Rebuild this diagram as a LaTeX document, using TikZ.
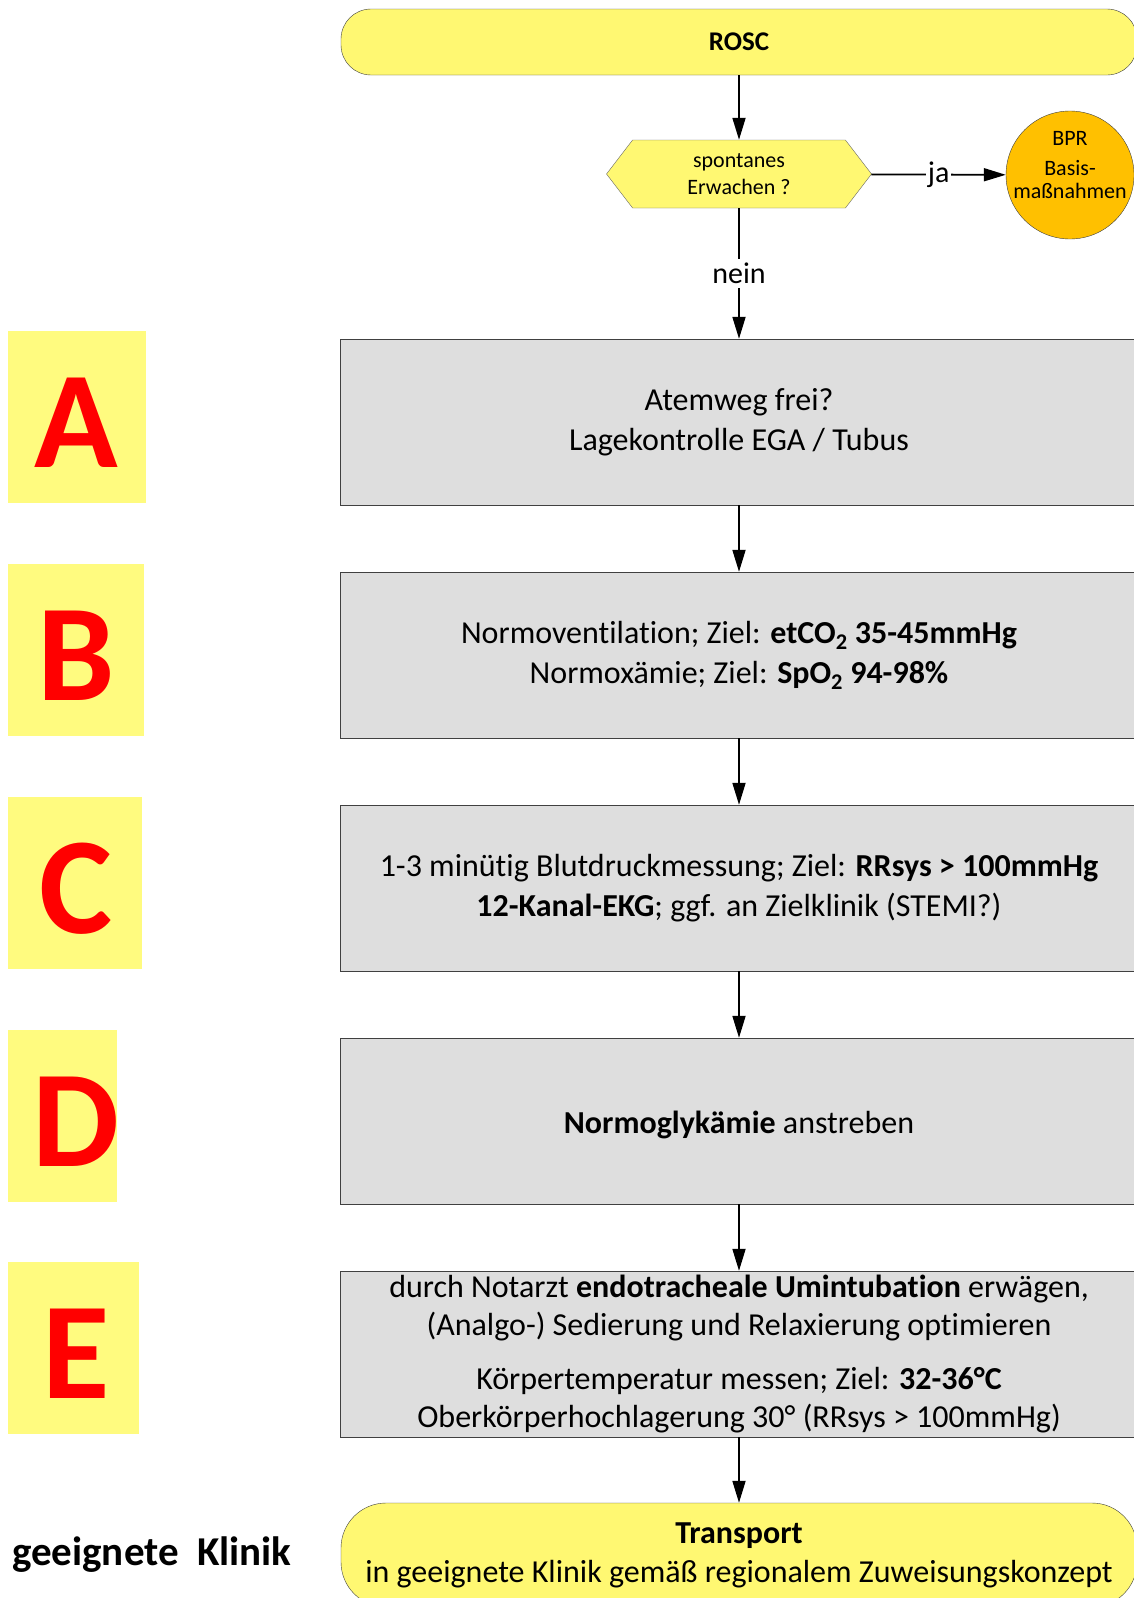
\documentclass[tikz,border=0pt]{standalone}
\usepackage{fontspec}
\setmainfont{Carlito}[Ligatures=NoCommon]
\usepackage{tikz}
\usetikzlibrary{shapes,arrows,arrows.meta,positioning}
\definecolor{gelb}{HTML}{FFF872}
\definecolor{hellgelb}{HTML}{FFFB7F}
\definecolor{grau}{HTML}{DEDEDE}
\definecolor{bprorange}{HTML}{FFC000}
\definecolor{rot}{HTML}{FF0000}
\tikzstyle{schritt} = [rectangle, draw=black!75, fill=grau, minimum width=798pt, minimum height=166pt, align=center, font=\fontsize{32}{40}\selectfont, execute at begin node=\rule{0pt}{30pt}]
\tikzstyle{rund} = [rectangle, draw=black!75, fill=gelb, minimum width=796pt, align=center]
\tikzstyle{frage} = [signal, signal to=east and west, signal pointer angle=105, draw=black!60, fill=gelb, minimum width=265pt, minimum height=68pt, inner sep=0pt, align=center, font=\fontsize{22}{27}\selectfont]
\tikzstyle{kreis} = [circle, draw=black!75, fill=bprorange, minimum size=128pt, inner sep=-25pt, align=center, font=\fontsize{22}{22.5}\selectfont]
\tikzstyle{buchbox} = [rectangle, fill=hellgelb, minimum height=172pt, anchor=west, inner sep=0pt]
\tikzstyle{buchstabe} = [text=rot, inner sep=0pt, font=\fontsize{138}{138}\selectfont\bfseries]
\tikzstyle{marke} = [fill=white, font=\fontsize{30}{34}\selectfont]
\tikzstyle{line} = [draw, line width=1.8pt, -{Triangle[length=22pt,width=13pt]}]

\begin{document}
\begin{tikzpicture}[x=1pt, y=-1pt, node distance=233pt]
\useasboundingbox (0,0) rectangle (1133,1598);

\node [rund, minimum height=66pt, rounded corners=30pt, font=\fontsize{27}{30}\selectfont\bfseries] (rosc) at (739,42) {ROSC};
\node [frage] (erwachen) at (739,174) {spontanes\\Erwachen ?};
\node [kreis] (bpr) at (1070,175) {BPR\\[8pt]Basis-\\maßnahmen\\[-2pt]\mbox{}};

\node [schritt] (atemweg) at (739,422) {Atemweg frei?\\Lagekontrolle EGA / Tubus};
\node [schritt, below of=atemweg] (beatmung) {Normoventilation; Ziel: \textbf{etCO\textsubscript{2} 35-45mmHg}\\Normoxämie; Ziel: \textbf{SpO\textsubscript{2} 94-98\%}};
\node [schritt, below of=beatmung] (kreislauf) {1-3 minütig Blutdruckmessung; Ziel: \textbf{RRsys > 100mmHg}\\\textbf{12-Kanal-EKG}; ggf. an Zielklinik (STEMI?)};
\node [schritt, below of=kreislauf] (glukose) {\textbf{Normoglykämie} anstreben};
\node [schritt, below of=glukose, font=\fontsize{32}{38.5}\selectfont] (umgebung) {durch Notarzt \textbf{endotracheale Umintubation} erwägen,\\(Analgo-) Sedierung und Relaxierung optimieren\\[15pt]Körpertemperatur messen; Ziel: \textbf{32-36°C}\\Oberkörperhochlagerung 30° (RRsys > 100mmHg)};

\node [rund, minimum height=104pt, rounded corners=45pt, font=\fontsize{32}{39}\selectfont] (transport) at (739,1555) {\textbf{Transport}\\in geeignete Klinik gemäß regionalem Zuweisungskonzept};

% ABCDE Spalte
\node [buchbox, minimum width=138pt] (boxA) at (8,417) {};
\node [buchbox, minimum width=136pt] (boxB) at (8,650) {};
\node [buchbox, minimum width=134pt] (boxC) at (8,883) {};
\node [buchbox, minimum width=109pt] (boxD) at (8,1116) {};
\node [buchbox, minimum width=131pt] (boxE) at (8,1348) {};
\node [buchstabe] (A) at (76,423) {A};
\node [buchstabe] (B) at (76,656) {B};
\node [buchstabe] (C) at (76,889) {C};
\node [buchstabe] (D) at (76,1122) {D};
\node [buchstabe] (E) at (76,1354) {E};
\node [anchor=west, inner sep=0pt, font=\fontsize{41}{45}\selectfont\bfseries] (klinik) at (12,1555) {geeignete\ \ Klinik};

\path[line](rosc) -- (erwachen);
\path[line](erwachen) -- node[marke, inner sep=2pt]{ja} (bpr);
\path[line](erwachen) -- node[marke, inner sep=4pt]{nein} (atemweg);
\path[line](atemweg) -- (beatmung);
\path[line](beatmung) -- (kreislauf);
\path[line](kreislauf) -- (glukose);
\path[line](glukose) -- (umgebung);
\path[line](umgebung) -- (transport);
\end{tikzpicture}
\end{document}
